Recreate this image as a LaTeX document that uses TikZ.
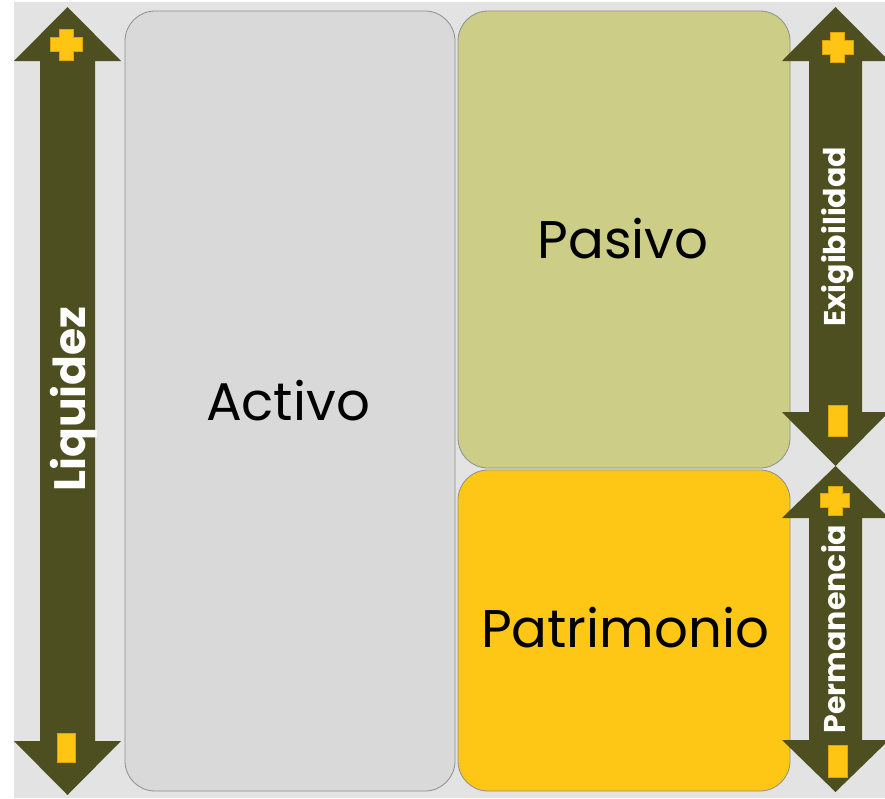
\documentclass[tikz,border=0pt]{standalone}
\usepackage{fontspec}
\setmainfont{Poppins}
\begin{document}
\begin{tikzpicture}[x=1pt,y=-1pt,
  every node/.style={inner sep=0pt,outer sep=0pt},
  panel/.style={draw=boxline,line width=0.8pt,rounded corners=30pt},
  axisarrow/.style={fill=olive,draw=none},
  sign/.style={fill=signfill,draw=signedge,line width=0.6pt},
  boxlabel/.style={font=\fontsize{53}{60}\selectfont,text=black,anchor=base},
  axislabel/.style={text=white,anchor=base,rotate=90},
]
\definecolor{olive}{HTML}{4E4F20}
\definecolor{signfill}{HTML}{FFC512}
\definecolor{signedge}{HTML}{E0A600}
\definecolor{boxline}{HTML}{8E8E8E}
\definecolor{bggray}{HTML}{E3E3E3}
\definecolor{activofill}{HTML}{D9D9D9}
\definecolor{pasivofill}{HTML}{CCCD86}
\definecolor{patrifill}{HTML}{FEC715}

\useasboundingbox (0,0) rectangle (885,798);
\fill[white] (0,0) rectangle (885,798);
\fill[bggray] (14,2) rectangle (885,798);

% the three balance-sheet panels
\draw[panel,fill=activofill] (125,11) rectangle (455,791);
\draw[panel,fill=pasivofill] (458,11) rectangle (790,468);
\draw[panel,fill=patrifill] (458,470) rectangle (790,791);

\node[boxlabel] (activo) at (288,420) {Activo};
\node[boxlabel] (pasivo) at (623,258) {Pasivo};
\node[boxlabel] (patrimonio) at (625,647) {Patrimonio};

% left double arrow: liquidity
\fill[axisarrow] (67.5,7) -- (121,61) -- (95,61) -- (95,741) -- (121,741)
  -- (67.5,795) -- (14,741) -- (40,741) -- (40,61) -- (14,61) -- cycle;
% right upper double arrow: exigibility
\fill[axisarrow] (835.5,7) -- (889,61) -- (862,61) -- (862,412) -- (889,412)
  -- (835.5,466) -- (782,412) -- (809,412) -- (809,61) -- (782,61) -- cycle;
% right lower double arrow: permanence
\fill[axisarrow] (835.5,466) -- (889,518) -- (862,518) -- (862,740) -- (889,740)
  -- (835.5,792) -- (782,740) -- (809,740) -- (809,518) -- (782,518) -- cycle;

% plus and minus signs on the arrow heads
\draw[sign] (59,29) -- (73,29) -- (73,37.5) -- (82,37.5) -- (82,51.5) -- (73,51.5)
  -- (73,60) -- (59,60) -- (59,51.5) -- (50,51.5) -- (50,37.5) -- (59,37.5) -- cycle;
\draw[sign] (57,733) rectangle (75,762);

\draw[sign] (830.5,32) -- (844.5,32) -- (844.5,40) -- (853,40) -- (853,54) -- (844.5,54)
  -- (844.5,62) -- (830.5,62) -- (830.5,54) -- (822,54) -- (822,40) -- (830.5,40) -- cycle;
\draw[sign] (828,405) rectangle (847,436);

\draw[sign] (828,486) -- (842,486) -- (842,493.5) -- (849,493.5) -- (849,507.5) -- (842,507.5)
  -- (842,515) -- (828,515) -- (828,507.5) -- (820,507.5) -- (820,493.5) -- (828,493.5) -- cycle;
\draw[sign] (828,745) rectangle (847,777);

% axis labels
\node[axislabel,font=\fontsize{44}{50}\selectfont\bfseries] (liquidez) at (85,399) {Liquidez};
\node[axislabel,font=\fontsize{30}{36}\selectfont\bfseries] (exigibilidad) at (845,237) {Exigibilidad};
\node[axislabel,font=\fontsize{30}{36}\selectfont\bfseries] (permanencia) at (845,629) {Permanencia};
\end{tikzpicture}
\end{document}
